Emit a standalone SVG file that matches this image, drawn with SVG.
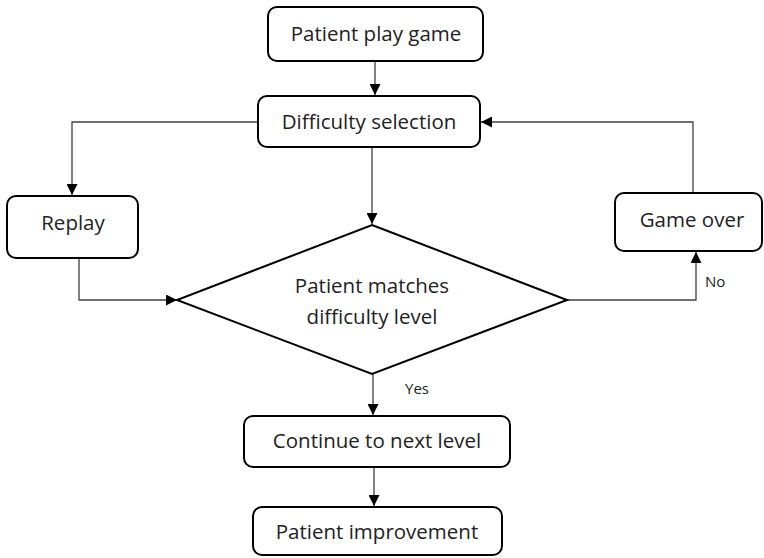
<svg xmlns="http://www.w3.org/2000/svg" width="764" height="558" viewBox="0 0 764 558">
  <style>
    .box { fill: #ffffff; stroke: #000000; stroke-width: 2; }
    .wire { fill: none; stroke: #404040; stroke-width: 1.3; }
    .label { font-family: "Open Sans", "Noto Sans", sans-serif; font-size: 20.5px; fill: #222222; text-anchor: middle; }
    .tag { font-family: "Open Sans", "Noto Sans", sans-serif; font-size: 15px; fill: #222222; }
  </style>
  <defs>
    <marker id="arrow" viewBox="0 0 10 10" refX="10" refY="5" markerWidth="11" markerHeight="11" markerUnits="userSpaceOnUse" orient="auto">
      <path d="M0,0 L10,5 L0,10 Z" fill="#000000"/>
    </marker>
  </defs>

  <rect width="764" height="558" fill="#ffffff"/>

  <g id="connectors">
    <path class="wire" d="M375,61 V95" marker-end="url(#arrow)"/>
    <path class="wire" d="M258,122 H72 V195" marker-end="url(#arrow)"/>
    <path class="wire" d="M372,147 V224" marker-end="url(#arrow)"/>
    <path class="wire" d="M79,258 V300 H177" marker-end="url(#arrow)"/>
    <path class="wire" d="M567,300 H696 V252" marker-end="url(#arrow)"/>
    <path class="wire" d="M693,193 V122 H481" marker-end="url(#arrow)"/>
    <path class="wire" d="M373,374 V415" marker-end="url(#arrow)"/>
    <path class="wire" d="M374,467 V506" marker-end="url(#arrow)"/>
    <text class="tag" x="705" y="287">No</text>
    <text class="tag" x="405" y="394">Yes</text>
  </g>

  <g id="patient-play-game">
    <rect class="box" x="268" y="7" width="215" height="54" rx="9"/>
    <text class="label" x="376" y="41">Patient play game</text>
  </g>

  <g id="difficulty-selection">
    <rect class="box" x="258" y="96" width="222" height="51" rx="9"/>
    <text class="label" x="369" y="129">Difficulty selection</text>
  </g>

  <g id="replay">
    <rect class="box" x="7" y="196" width="131" height="62" rx="9"/>
    <text class="label" x="73" y="230">Replay</text>
  </g>

  <g id="game-over">
    <rect class="box" x="615" y="193" width="147" height="58" rx="9"/>
    <text class="label" x="692" y="227">Game over</text>
  </g>

  <g id="patient-matches">
    <polygon class="box" points="372,225 567,300 372,374 177,300"/>
    <text class="label" x="372" y="293">Patient matches</text>
    <text class="label" x="372" y="324">difficulty level</text>
  </g>

  <g id="continue-next-level">
    <rect class="box" x="244" y="416" width="266" height="51" rx="9"/>
    <text class="label" x="377" y="448">Continue to next level</text>
  </g>

  <g id="patient-improvement">
    <rect class="box" x="253" y="507" width="249" height="48" rx="9"/>
    <text class="label" x="377" y="539">Patient improvement</text>
  </g>
</svg>
